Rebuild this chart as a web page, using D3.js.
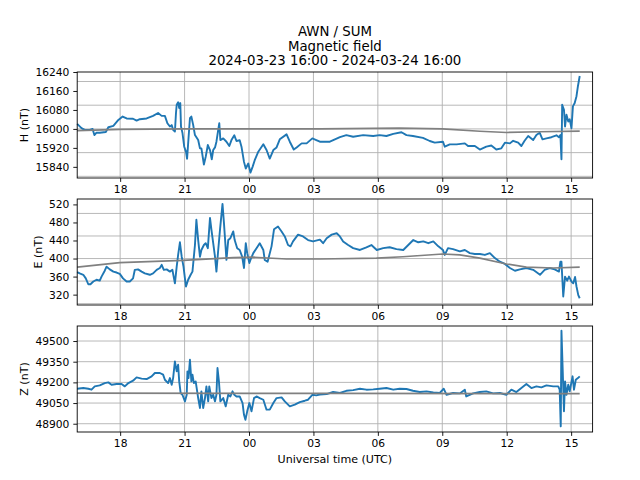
<!DOCTYPE html>
<html>
<head>
<meta charset="utf-8">
<script src="https://cdn.jsdelivr.net/npm/d3@7"></script>
<style>
  body { margin: 0; background: #fff; }
  svg text { font-family: "DejaVu Sans", sans-serif; fill: #000; }
</style>
</head>
<body>
<div id="chart"></div>
<script>
// minutes after 2024-03-23 16:00 UTC, value in nT
const hMeasured = [
  [0,16021],[12,16003],[21,15996],[35,15996],[43,16000],[48,15974],[54,15984],[63,15984],[80,15987],[87,16007],
  [101,16013],[115,16038],[127,16052],[138,16044],[156,16043],[166,16035],[175,16041],[194,16044],[212,16055],[226,16067],
  [236,16055],[245,16055],[252,16024],[259,16010],[264,16016],[268,15996],[273,15989],[276,16067],[278,16102],[282,16112],
  [285,16088],[288,16109],[290,16010],[294,15984],[299,15925],[304,15904],[307,15874],[310,15939],[315,16045],[319,16052],
  [324,16017],[329,15974],[338,15953],[343,15918],[347,15918],[354,15850],[359,15882],[365,15932],[371,15911],[376,15872],
  [380,15911],[385,15922],[389,15946],[394,15996],[397,16024],[400,15953],[408,15960],[417,15946],[425,15928],[431,15953],
  [439,15973],[445,15949],[454,15952],[459,15925],[466,15861],[471,15833],[478,15854],[484,15816],[490,15840],[496,15868],
  [506,15904],[520,15935],[529,15911],[538,15875],[548,15911],[557,15922],[566,15956],[585,15977],[594,15946],[605,15913],
  [613,15922],[627,15939],[641,15939],[657,15960],[668,15953],[678,15946],[706,15946],[734,15965],[752,15974],[771,15967],
  [799,15974],[827,15970],[845,15974],[864,15970],[883,15979],[906,15986],[920,15974],[938,15970],[966,15962],[985,15949],
  [999,15942],[1022,15946],[1027,15925],[1041,15935],[1060,15935],[1083,15939],[1092,15928],[1111,15928],[1125,15913],[1143,15925],
  [1157,15930],[1171,15913],[1185,15918],[1195,15942],[1209,15939],[1218,15950],[1232,15942],[1241,15928],[1250,15950],[1260,15970],
  [1274,15953],[1283,15974],[1292,15984],[1300,15956],[1311,15960],[1325,15965],[1339,15973],[1346,15965],[1350,15974],[1353,15872],
  [1355,16102],[1360,16081],[1363,16010],[1367,16060],[1372,16031],[1376,16041],[1381,16003],[1385,16095],[1390,16109],[1395,16138],
  [1399,16180],[1404,16223]
];
const hBaseline = [
  [0,15993],[120,15998],[300,16000],[678,16000],[900,16003],[1020,16000],[1125,15990],[1200,15985],[1290,15988],[1404,15991]
];

const eMeasured = [
  [0,370],[7,367],[17,364],[24,356],[31,343],[37,343],[45,349],[54,353],[63,351],[68,360],
  [77,373],[82,382],[91,376],[101,371],[110,369],[119,366],[128,356],[138,349],[147,349],[156,356],
  [161,375],[170,376],[180,371],[189,367],[203,364],[212,367],[222,375],[231,379],[236,386],[242,375],
  [250,376],[259,371],[266,375],[273,345],[278,382],[282,408],[287,436],[292,404],[297,382],[301,356],
  [304,338],[310,353],[317,364],[322,371],[329,430],[333,486],[338,441],[343,404],[347,419],[354,430],
  [359,434],[365,423],[371,490],[375,464],[380,434],[385,404],[389,371],[394,419],[399,464],[403,497],
  [406,521],[410,479],[417,397],[422,441],[428,445],[436,460],[440,441],[447,423],[454,419],[461,404],
  [466,379],[471,434],[475,412],[481,390],[484,397],[492,412],[501,423],[510,434],[520,419],[524,397],
  [532,393],[543,427],[550,465],[561,471],[571,460],[580,449],[589,430],[596,427],[603,438],[617,453],
  [631,449],[645,441],[659,438],[678,442],[687,434],[697,445],[711,453],[725,456],[734,449],[743,438],
  [757,430],[771,423],[790,419],[808,425],[822,430],[837,419],[855,423],[873,425],[892,421],[911,419],
  [925,430],[939,441],[953,436],[967,438],[981,434],[995,438],[1009,427],[1022,419],[1027,408],[1036,423],
  [1050,421],[1069,416],[1083,419],[1097,412],[1111,410],[1125,410],[1139,408],[1153,412],[1167,401],[1181,393],
  [1195,388],[1209,379],[1223,373],[1237,376],[1255,379],[1274,375],[1293,364],[1306,375],[1320,379],[1334,376],
  [1346,371],[1350,393],[1353,393],[1358,316],[1363,360],[1369,351],[1374,360],[1381,349],[1386,345],[1391,359],
  [1395,338],[1400,319],[1404,312]
];
const eBaseline = [
  [0,381],[119,391],[296,396],[436,402],[492,403],[585,399],[678,399],[836,401],[910,404],[1021,410],
  [1069,408],[1125,401],[1199,388],[1255,381],[1330,379],[1404,381]
];

const zMeasured = [
  [0,49154],[17,49159],[31,49154],[40,49147],[49,49171],[63,49178],[77,49195],[87,49200],[96,49183],[110,49188],
  [124,49188],[133,49171],[143,49195],[156,49212],[166,49236],[180,49227],[194,49224],[208,49244],[217,49268],[231,49268],
  [240,49256],[245,49219],[254,49195],[259,49231],[264,49183],[268,49231],[273,49352],[278,49280],[282,49328],[285,49207],
  [289,49123],[294,49110],[301,49062],[306,49110],[308,49280],[311,49231],[315,49364],[319,49207],[322,49256],[326,49195],
  [331,49207],[338,49086],[343,49014],[347,49135],[352,49014],[357,49086],[361,49171],[366,49062],[369,49171],[375,49086],
  [380,49110],[385,49062],[389,49110],[392,49304],[396,49207],[400,49062],[408,49086],[415,49026],[422,49110],[428,49098],
  [434,49135],[439,49110],[445,49098],[454,49098],[462,49050],[466,48965],[470,48929],[475,48990],[481,49050],[487,48990],
  [494,49086],[501,49098],[510,49086],[520,49074],[529,49002],[538,49002],[548,49050],[557,49086],[571,49091],[580,49062],
  [594,49026],[608,49038],[622,49057],[636,49067],[645,49074],[657,49110],[668,49106],[678,49112],[697,49115],[715,49130],
  [734,49123],[752,49139],[771,49144],[790,49154],[808,49147],[827,49149],[845,49154],[864,49159],[883,49147],[901,49154],
  [920,49152],[938,49139],[957,49130],[976,49135],[995,49127],[1013,49123],[1024,49154],[1032,49110],[1050,49123],[1069,49120],
  [1083,49147],[1087,49098],[1106,49120],[1125,49130],[1143,49135],[1162,49120],[1181,49123],[1199,49110],[1213,49147],[1227,49130],
  [1241,49159],[1255,49188],[1269,49159],[1283,49171],[1297,49164],[1311,49178],[1330,49171],[1344,49171],[1348,49147],[1351,48881],
  [1353,49575],[1356,49328],[1360,48990],[1363,49207],[1367,49110],[1372,49183],[1376,49135],[1384,49244],[1388,49147],[1393,49219],
  [1399,49231],[1404,49244]
];
const zBaseline = [[0,49122],[700,49120],[1404,49118]];

const hTicks = [15840, 15920, 16000, 16080, 16160, 16240];
const hGrid = [15800, 15900, 16000, 16100, 16200];
const eTicks = [320, 360, 400, 440, 480, 520];
const eGrid = [300, 350, 400, 450, 500];
const zTicks = [48900, 49050, 49200, 49350, 49500];
const zGrid = [48900, 49050, 49200, 49350, 49500];

const titleLines = ['AWN / SUM', 'Magnetic field', '2024-03-23 16:00 - 2024-03-24 16:00'];

const W = 640, H = 480;
const left = 77.2, right = 592.6;
const start = new Date(Date.UTC(2024, 2, 23, 16, 0));
const end = new Date(Date.UTC(2024, 2, 24, 16, 0));
const toDate = (m) => new Date(start.getTime() + m * 60000);

const svg = d3.select('#chart').append('svg').attr('width', W).attr('height', H);

const x = d3.scaleUtc().domain([start, end]).range([left, right]);
const xTicks = d3.utcHour.every(3).range(d3.utcHour.offset(start, 1), end);

const panels = [
  {label: 'H (nT)', top: 72, bottom: 178, domain: [15793, 16240], ticks: hTicks, grid: hGrid, obs: hMeasured, base: hBaseline, labelX: 27.5},
  {label: 'E (nT)', top: 199, bottom: 305, domain: [297, 532], ticks: eTicks, grid: eGrid, obs: eMeasured, base: eBaseline, labelX: 41.8},
  {label: 'Z (nT)', top: 326, bottom: 432, domain: [48840, 49609], ticks: zTicks, grid: zGrid, obs: zMeasured, base: zBaseline, labelX: 27.5}
];

panels.forEach((p, i) => {
  let y = d3.scaleLinear().domain(p.domain).range([p.bottom, p.top]);
  let g = svg.append('g');

  // grid
  g.selectAll('.vgrid').data(xTicks).enter().append('line')
    .attr('x1', d => x(d)).attr('x2', d => x(d))
    .attr('y1', p.top).attr('y2', p.bottom)
    .attr('stroke', '#b0b0b0').attr('stroke-width', 0.9);
  g.selectAll('.hgrid').data(p.grid).enter().append('line')
    .attr('x1', left).attr('x2', right)
    .attr('y1', d => y(d)).attr('y2', d => y(d))
    .attr('stroke', '#b0b0b0').attr('stroke-width', 0.9);

  let line = d3.line().x(d => x(toDate(d[0]))).y(d => y(d[1]));

  g.append('path').datum(p.obs)
    .attr('d', line)
    .attr('fill', 'none')
    .attr('stroke', '#1f77b4')
    .attr('stroke-width', 1.9)
    .attr('stroke-linejoin', 'round');

  g.append('path').datum(p.base)
    .attr('d', line)
    .attr('fill', 'none')
    .attr('stroke', 'gray')
    .attr('stroke-width', 1.67);

  // axes
  let xAxis = d3.axisBottom(x).tickValues(xTicks).tickFormat(d3.utcFormat('%H'))
    .tickSizeOuter(0).tickSizeInner(3.9).tickPadding(3.9);
  let yAxis = d3.axisLeft(y).tickValues(p.ticks).tickFormat(d3.format('d'))
    .tickSizeOuter(0).tickSizeInner(3.9).tickPadding(3.9);

  let gx = g.append('g').attr('transform', `translate(0,${p.bottom})`).call(xAxis);
  let gy = g.append('g').attr('transform', `translate(${left},0)`).call(yAxis);
  [gx, gy].forEach(a => {
    a.select('.domain').remove();
    a.selectAll('line').attr('stroke', '#000').attr('stroke-width', 0.9);
    a.selectAll('text').attr('font-size', 10.7).attr('font-family', 'DejaVu Sans').attr('fill', '#000');
  });

  g.append('rect')
    .attr('x', left).attr('y', p.top)
    .attr('width', right - left).attr('height', p.bottom - p.top)
    .attr('fill', 'none').attr('stroke', '#000').attr('stroke-width', 0.9);

  g.append('text')
    .attr('transform', `translate(${p.labelX},${(p.top + p.bottom) / 2}) rotate(-90)`)
    .attr('text-anchor', 'middle')
    .attr('font-size', 11.1)
    .text(p.label);
});

svg.append('text')
  .attr('x', (left + right) / 2).attr('y', 463)
  .attr('text-anchor', 'middle')
  .attr('font-size', 11.1)
  .text('Universal time (UTC)');

svg.selectAll('.title').data(titleLines).enter().append('text')
  .attr('x', (left + right) / 2)
  .attr('y', (d, i) => 35.9 + i * 14.7)
  .attr('text-anchor', 'middle')
  .attr('font-size', 13.3)
  .text(d => d);
</script>
</body>
</html>
